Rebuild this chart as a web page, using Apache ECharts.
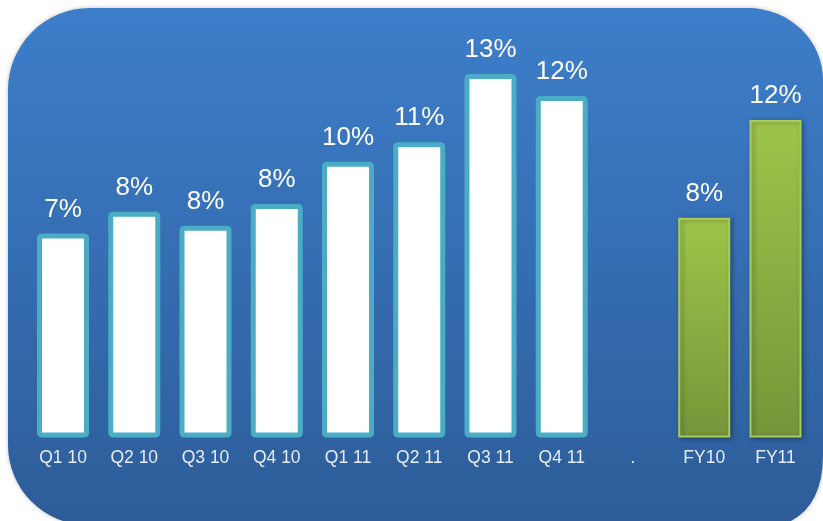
<!DOCTYPE html>
<html>
<head>
<meta charset="utf-8">
<script src="https://cdn.jsdelivr.net/npm/echarts@6/dist/echarts.min.js"></script>
<style>
  html, body { margin: 0; padding: 0; background: #ffffff; }
  #chart { width: 823px; height: 521px; }
</style>
</head>
<body>
<div id="chart"></div>
<script>
// Period labels along the bottom ("." is the spacer between quarters and years)
const categories = ['Q1 10', 'Q2 10', 'Q3 10', 'Q4 10', 'Q1 11', 'Q2 11', 'Q3 11', 'Q4 11', '.', 'FY10', 'FY11'];
// Quarterly margin, percent
const quarterValues = [7.41, 8.20, 7.69, 8.48, 10.01, 10.72, 13.20, 12.40];
// Full-year margin, percent
const yearValues = [7.98, 11.53];

// Rounded backdrop card behind the plot
const CardShape = echarts.graphic.extendPath(
  'M 90 8 L 748 8 A 75 72 0 0 1 823 80 L 823 455 Q 823 530 748 530 L 88 525 A 80 80 0 0 1 8 445 L 8 90 A 82 82 0 0 1 90 8 Z',
  {}
);
echarts.graphic.registerShape('card', CardShape);

const chart = echarts.init(document.getElementById('chart'), null, { renderer: 'canvas' });

const quarterStyle = {
  color: '#ffffff',
  borderColor: '#4bacc6',
  borderWidth: 5,
  borderRadius: 2
};
const yearStyle = {
  color: new echarts.graphic.LinearGradient(0, 0, 0, 1, [
    { offset: 0, color: '#9ec54a' },
    { offset: 1, color: '#76953a' }
  ]),
  borderColor: '#a8cc5c',
  borderWidth: 2,
  shadowColor: 'rgba(0,0,0,0.35)',
  shadowBlur: 5,
  shadowOffsetX: 2,
  shadowOffsetY: 1
};

const barData = [];
quarterValues.forEach(v => barData.push({ value: v, itemStyle: quarterStyle }));
barData.push('-');
yearValues.forEach(v => barData.push({ value: v, itemStyle: yearStyle }));

const option = {
  backgroundColor: '#ffffff',
  animation: false,
  graphic: [{
    type: 'card',
    z: -10,
    silent: true,
    style: {
      fill: new echarts.graphic.LinearGradient(0, 0, 0, 1, [
        { offset: 0, color: '#3d7eca' },
        { offset: 1, color: '#2d5c98' }
      ]),
      shadowColor: 'rgba(0,0,0,0.25)',
      shadowBlur: 4
    }
  }],
  grid: { left: 27.4, right: 11.9, top: 51.9, bottom: 83.5 },
  xAxis: {
    type: 'category',
    data: categories,
    axisLine: { show: false },
    axisTick: { show: false },
    axisLabel: {
      color: '#e6ecf5',
      fontFamily: 'Liberation Sans, Arial, sans-serif',
      fontSize: 17.5,
      margin: 12,
      interval: 0
    }
  },
  yAxis: {
    type: 'value',
    min: 0,
    max: 14,
    show: false
  },
  series: [{
    type: 'bar',
    data: barData,
    barWidth: 52,
    label: {
      show: true,
      position: 'top',
      distance: 11,
      color: '#ffffff',
      fontFamily: 'Liberation Sans, Arial, sans-serif',
      fontSize: 26,
      formatter: p => Math.round(p.value) + '%'
    }
  }]
};

chart.setOption(option);
</script>
</body>
</html>
